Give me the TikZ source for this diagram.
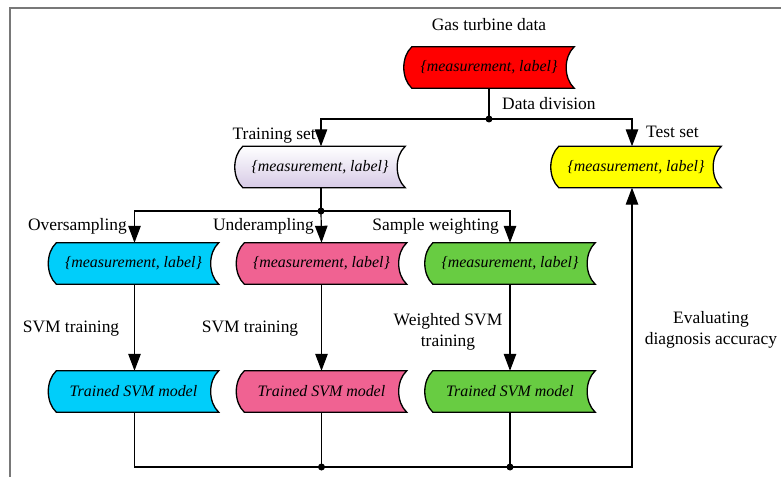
\documentclass[tikz,border=0pt]{standalone}
\usepackage{fontspec}
\setmainfont{Liberation Serif}
\usetikzlibrary{arrows.meta,backgrounds,calc}

\definecolor{boxred}{RGB}{255,0,0}
\definecolor{boxcyan}{RGB}{0,206,250}
\definecolor{boxpink}{RGB}{240,98,146}
\definecolor{boxgreen}{RGB}{104,204,66}
\definecolor{boxyellow}{RGB}{255,255,0}
\definecolor{lavender}{RGB}{214,202,230}
\definecolor{framegray}{RGB}{120,120,120}

\tikzset{
  dnode/.style={minimum width=170bp, minimum height=41bp, inner sep=0pt,
    font=\fontsize{16}{19}\selectfont\itshape},
  lbl/.style={font=\fontsize{17.5}{21}\selectfont, inner sep=0pt},
  conn/.style={line width=1.2bp},
  arr/.style={conn, -{Triangle[length=17bp,width=12.5bp]}},
  jdot/.style={circle, fill=black, inner sep=0pt, minimum size=7bp},
  outline/.style={draw=black, line width=1.3bp},
}

% stored-data outline around a named node: convex left side, concave right side
\newcommand\storeshape[2]{%
  \path[outline,#2] ([xshift=8bp]#1.north west) -- (#1.north east)
    .. controls ([xshift=-10.7bp,yshift=-10bp]#1.north east)
       and ([xshift=-10.7bp,yshift=10bp]#1.south east) .. (#1.south east)
    -- ([xshift=8bp]#1.south west)
    .. controls ([xshift=-2.7bp,yshift=10bp]#1.south west)
       and ([xshift=-2.7bp,yshift=-10bp]#1.north west) .. cycle;}

\begin{document}
\begin{tikzpicture}[x=1bp,y=-1bp]
\useasboundingbox (0,0) rectangle (781,477);

% frame
\draw[framegray, line width=1.5bp] (10,477) -- (10,8) -- (781,8);

% data blocks
\node[dnode] (red)    at (489,67.5)  {\{measurement, label\}};
\node[dnode] (train)  at (320,167)   {\{measurement, label\}};
\node[dnode] (test)   at (636,167)   {\{measurement, label\}};
\node[dnode] (over)   at (133.5,263.5) {\{measurement, label\}};
\node[dnode] (under)  at (321.5,263.5) {\{measurement, label\}};
\node[dnode] (weight) at (510,263.5) {\{measurement, label\}};
\node[dnode] (svm1)   at (133.5,391.5) {Trained SVM model};
\node[dnode] (svm2)   at (321.5,391.5) {Trained SVM model};
\node[dnode] (svm3)   at (510,391.5) {Trained SVM model};

\begin{scope}[on background layer]
  \storeshape{red}{fill=boxred}
  \storeshape{train}{top color=white, bottom color=lavender}
  \storeshape{test}{fill=boxyellow}
  \storeshape{over}{fill=boxcyan}
  \storeshape{under}{fill=boxpink}
  \storeshape{weight}{fill=boxgreen}
  \storeshape{svm1}{fill=boxcyan}
  \storeshape{svm2}{fill=boxpink}
  \storeshape{svm3}{fill=boxgreen}
\end{scope}

% junctions
\coordinate (j1) at (489,119);
\coordinate (j2) at (321,211);
\coordinate (j3) at (321.5,467);
\coordinate (j4) at (510,467);

% connectors
\draw[conn] (red.south) -- (j1);
\draw[arr] (j1) -| ([xshift=1bp]train.north);
\draw[arr] (j1) -| ([xshift=-4bp]test.north);
\draw[conn] ([xshift=1bp]train.south) -- (j2);
\draw[arr] (j2) -| ([xshift=1bp]over.north);
\draw[arr] (j2) -- (under.north);
\draw[arr] (j2) -| (weight.north);
\draw[arr] ([xshift=1bp]over.south) -- ([xshift=1bp]svm1.north);
\draw[arr] (under.south) -- (svm2.north);
\draw[arr] (weight.south) -- (svm3.north);
\draw[conn] ([xshift=1bp]svm1.south) |- (j3) -- (j4);
\draw[conn] (svm2.south) -- (j3);
\draw[conn] (svm3.south) -- (j4);
\draw[arr] (j4) -| ([xshift=-4bp]test.south);

\foreach \j in {j1,j2,j3,j4} \node[jdot] at (\j) {};

% labels
\node[lbl] (lgas) at (489,25) {Gas turbine data};
\node[lbl, anchor=west] (ldiv) at (502,104) {Data division};
\node[lbl, anchor=east] (ltrain) at (316,136) {Training set};
\node[lbl, anchor=west] (ltest) at (646,132) {Test set};
\node[lbl, anchor=east] (lover) at (127,226) {Oversampling};
\node[lbl, anchor=east] (lunder) at (314,226) {Underampling};
\node[lbl, anchor=east] (lweight) at (499,226) {Sample weighting};
\node[lbl] (lsvm1) at (71,329) {SVM training};
\node[lbl] (lsvm2) at (250,329) {SVM training};
\node[lbl, align=center] (lsvm3) at (448,331.5) {Weighted SVM\\training};
\node[lbl, align=center] (leval) at (711,330) {Evaluating\\diagnosis accuracy};
\end{tikzpicture}
\end{document}
